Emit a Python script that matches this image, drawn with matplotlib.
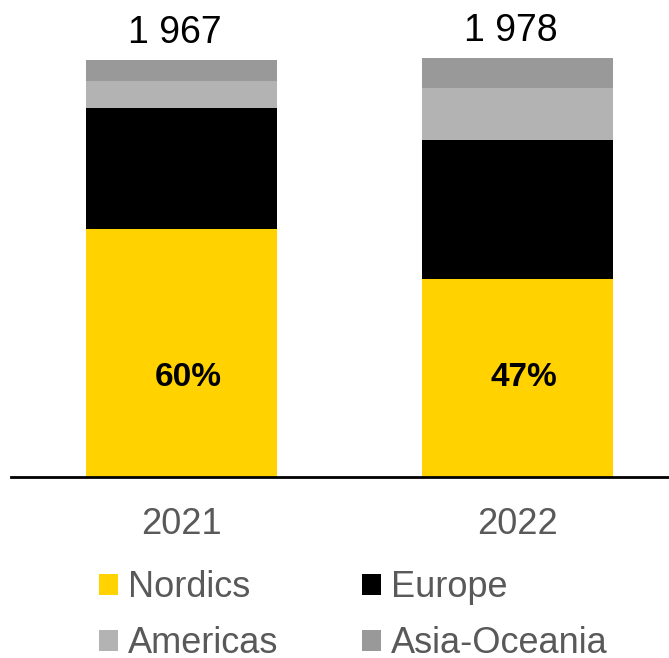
import matplotlib

matplotlib.use("Agg")
import matplotlib.pyplot as plt
from matplotlib.patches import Patch

plt.rcParams["font.family"] = ["Liberation Sans", "DejaVu Sans"]

YEARS = ["2021", "2022"]
REGIONS = ["Nordics", "Europe", "Americas", "Asia-Oceania"]
NORDICS = [1170, 936]
EUROPE = [571, 655]
AMERICAS = [127, 245]
ASIA_OCEANIA = [99, 142]
TOTAL_LABELS = ["1 967", "1 978"]
NORDIC_SHARE = ["60%", "47%"]

COLORS = ["#FFD200", "#000000", "#B3B3B3", "#999999"]
GREY_TEXT = "#595959"

fig = plt.figure(figsize=(6.69, 6.58), dpi=100)
ax = fig.add_axes([11 / 669, 1 - 477 / 658, 658 / 669, 477 / 658])

x = list(range(len(YEARS)))
width = 0.568
bottom = [0, 0]
for values, color in zip([NORDICS, EUROPE, AMERICAS, ASIA_OCEANIA], COLORS):
    ax.bar(x, values, width, bottom=bottom, color=color, edgecolor="none")
    bottom = [b + v for b, v in zip(bottom, values)]

totals = bottom
for xi, tot, lab in zip(x, totals, TOTAL_LABELS):
    ax.text(xi - 0.02, tot + 80, lab, ha="center", va="baseline", fontsize=27,
            color="black")
for xi, share in zip(x, NORDIC_SHARE):
    ax.text(xi + 0.02, 470, share, ha="center", va="center", fontsize=24,
            fontweight="bold", color="black")

ax.set_xlim(-0.507, 1.451)
ax.set_ylim(0, 1967 * 477 / 417)
for side in ("top", "right", "left"):
    ax.spines[side].set_visible(False)
ax.spines["bottom"].set_linewidth(2)
ax.set_yticks([])
ax.set_xticks(x)
ax.set_xticklabels(YEARS, fontsize=26, color=GREY_TEXT)
ax.tick_params(axis="x", length=0, pad=21.5)

# legend fills column-wise, so order handles to read row-wise
order = [0, 2, 1, 3]
handles = [Patch(facecolor=COLORS[i], edgecolor="none") for i in order]
labels = [REGIONS[i] for i in order]
fig.legend(handles, labels, ncol=2, loc="upper left",
           bbox_to_anchor=(99 / 669, 1 - 570 / 658), frameon=False,
           fontsize=26, labelcolor=GREY_TEXT, handlelength=0.53,
           handleheight=0.53, handletextpad=0.28, columnspacing=2.3,
           labelspacing=0.58, borderpad=0, borderaxespad=0)

fig.savefig("out.png", dpi=100)
